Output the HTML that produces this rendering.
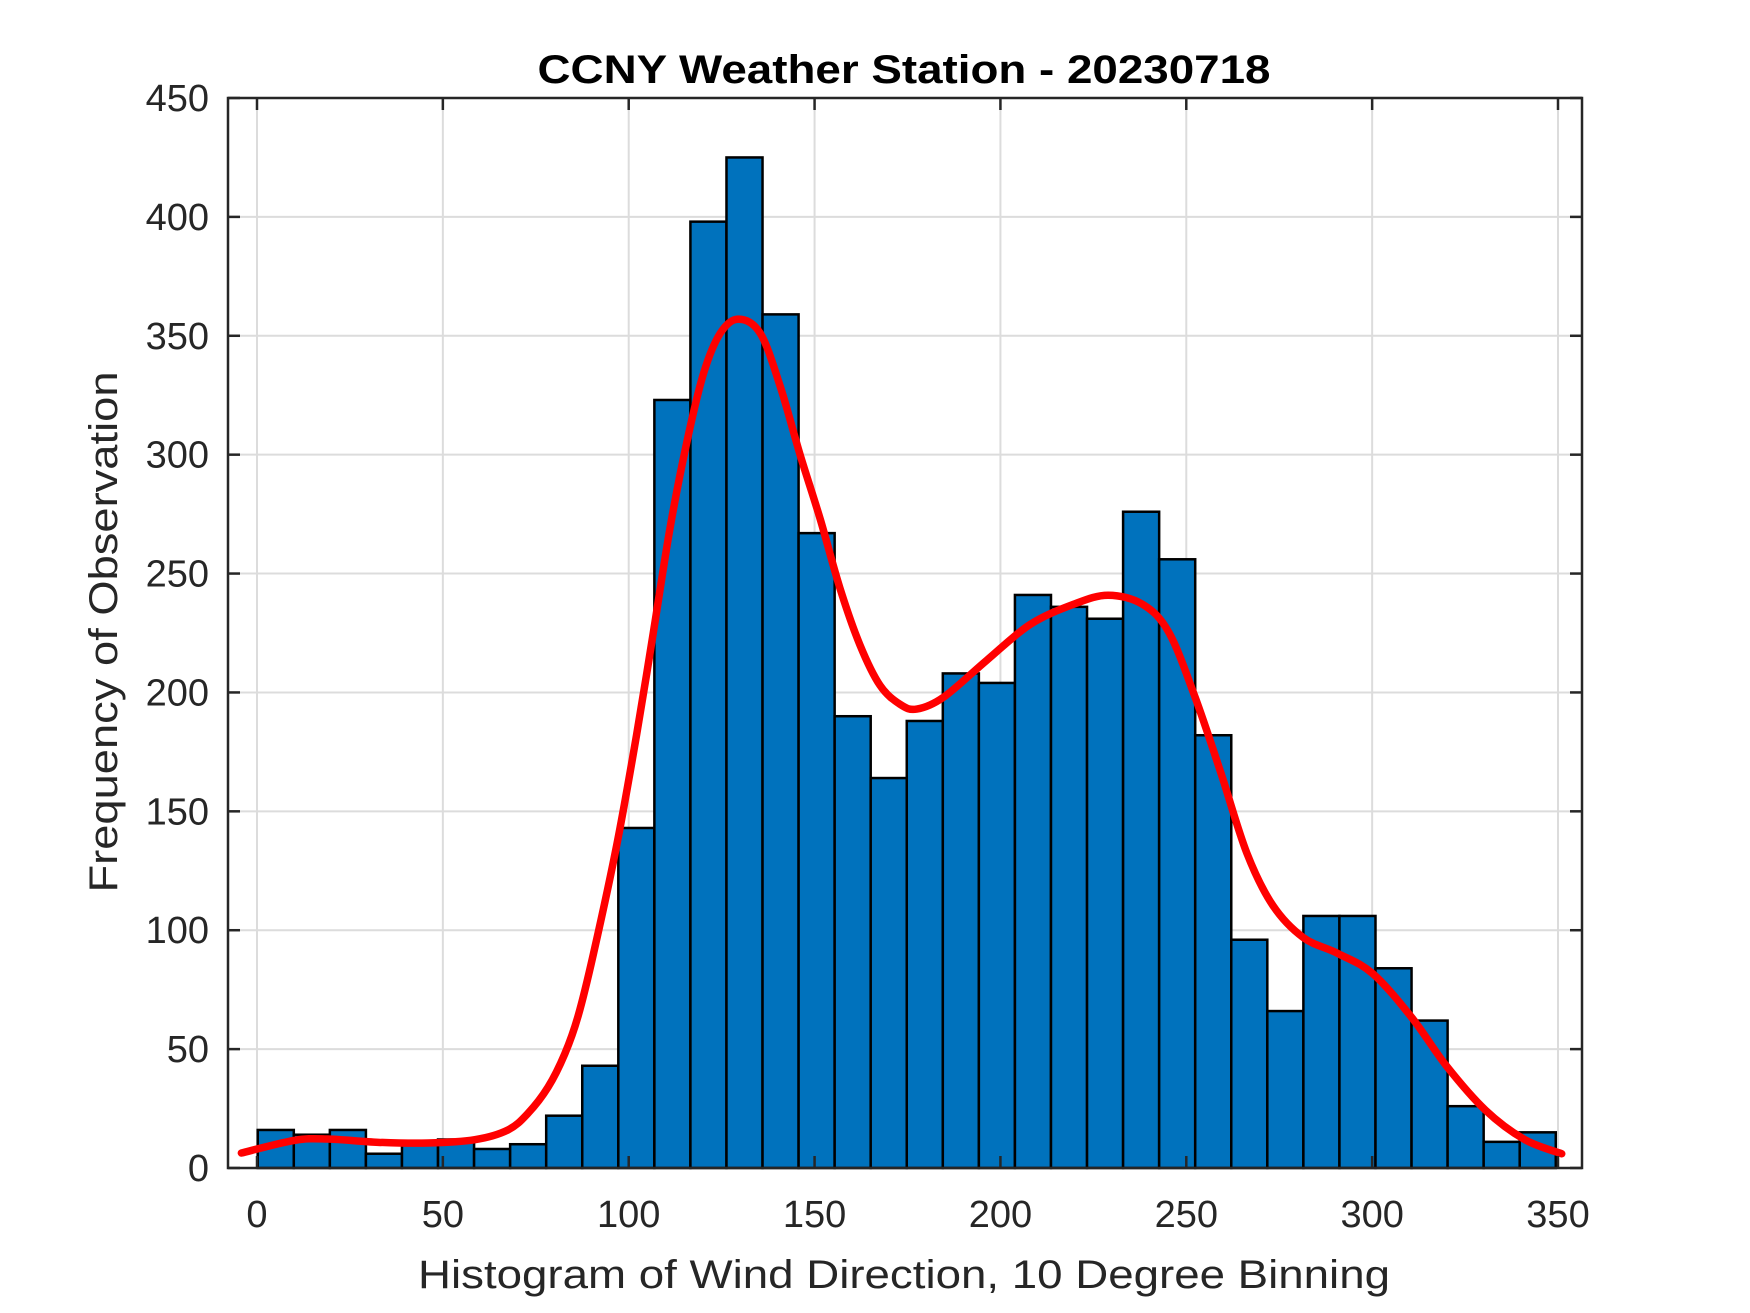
<!DOCTYPE html>
<html><head><meta charset="utf-8"><style>
html,body{margin:0;padding:0;background:#fff;}
svg{display:block;font-family:"Liberation Sans",Arial,sans-serif;}
</style></head><body>
<svg id="chart" width="1750" height="1313" viewBox="0 0 1750 1313">
<text x="904" y="83" text-anchor="middle" font-size="40" font-weight="bold" textLength="733" lengthAdjust="spacingAndGlyphs">CCNY Weather Station - 20230718</text>
<g id="grid"></g>
<g id="bars"></g>
<g id="curve"></g>
<rect x="228" y="98" width="1354" height="1070" fill="none" stroke="#262626" stroke-width="2.5"/>
<g id="ticks"></g>
<text x="904" y="1288" text-anchor="middle" font-size="40" fill="#262626" textLength="972" lengthAdjust="spacingAndGlyphs">Histogram of Wind Direction, 10 Degree Binning</text>
<text transform="translate(117,632) rotate(-90)" text-anchor="middle" font-size="40" fill="#262626" textLength="521" lengthAdjust="spacingAndGlyphs">Frequency of Observation</text>
</svg>
<script>
const counts=[16,14,16,6,11,12,8,10,22,43,143,323,398,425,359,267,190,164,188,208,204,241,236,231,276,256,182,96,66,106,106,84,62,26,11,15];
const binStart=0.2;
const binWidth=9.7;
const curveX=[-4.2,10,19,32.6,46,58.6,67.5,72.9,78.3,82.8,86.4,90.5,96.8,102.1,106.6,111.1,115.6,120.1,124.6,129.5,135.4,140.7,146.1,151.5,156.8,162.2,167.6,173,177.5,184.7,196.3,208,219.7,229,238.3,245.3,252.3,259.3,266.3,273.3,281.5,290.8,300.2,310.7,320,330.5,341,351];
const curveY=[6.3,11.6,12.2,10.8,10.5,11.9,16,23,34,48,64,90,136,182,225,269,305,334,351,357,351,329,300,273,244,220,203,195,193,198,213.5,228.6,237.1,240.9,237,225.3,198.3,166.2,132.4,110.4,96.9,90.2,81.7,63.2,42.9,24.3,12,6];
const xTicks=[0,50,100,150,200,250,300,350];
const yTicks=[0,50,100,150,200,250,300,350,400,450];
const NS='http://www.w3.org/2000/svg';
const xs=v=>257+(v)*(1558-257)/350;
const ys=v=>1168-v*(1070/450);
function mk(tag,attrs,parent){const e=document.createElementNS(NS,tag);for(const k in attrs)e.setAttribute(k,attrs[k]);parent.appendChild(e);return e;}
const grid=document.getElementById('grid'),ticks=document.getElementById('ticks'),bars=document.getElementById('bars'),curve=document.getElementById('curve');
xTicks.forEach(t=>{const x=xs(t);
 const g=mk('line',{x1:x,x2:x,y1:98,y2:1168,stroke:'#dcdcdc','stroke-width':2},grid);
 
 
 mk('line',{x1:x,x2:x,y1:1168,y2:1156,stroke:'#262626','stroke-width':2.5},ticks);
 mk('line',{x1:x,x2:x,y1:98,y2:110,stroke:'#262626','stroke-width':2.5},ticks);
 const l=mk('text',{x:x,y:1227,'text-anchor':'middle','font-size':38,fill:'#262626'},ticks);
 l.textContent=t;
 
 
});
yTicks.forEach(t=>{const y=ys(t);
 const g=mk('line',{x1:228,x2:1582,y1:y,y2:y,stroke:'#dcdcdc','stroke-width':2},grid);
 
 
 mk('line',{x1:228,x2:240,y1:y,y2:y,stroke:'#262626','stroke-width':2.5},ticks);
 mk('line',{x1:1582,x2:1570,y1:y,y2:y,stroke:'#262626','stroke-width':2.5},ticks);
 const l=mk('text',{x:209,y:y+13,'text-anchor':'end','font-size':38,fill:'#262626'},ticks);
 l.textContent=t;
 
 
});
counts.forEach((c,i)=>{const x0=xs(binStart+i*binWidth),x1=xs(binStart+(i+1)*binWidth);
 const r=mk('rect',{x:x0,y:ys(c),width:x1-x0,height:ys(0)-ys(c),fill:'#0072bd',stroke:'#000','stroke-width':2.5},bars);
 
 
});
const P=curveX.map((x,i)=>[xs(x),ys(curveY[i])]);
let d='M'+P[0][0]+','+P[0][1];
for(let i=0;i<P.length-1;i++){const p0=P[Math.max(0,i-1)],p1=P[i],p2=P[i+1],p3=P[Math.min(P.length-1,i+2)];
 d+=' C'+(p1[0]+(p2[0]-p0[0])/6)+','+(p1[1]+(p2[1]-p0[1])/6)+' '+(p2[0]-(p3[0]-p1[0])/6)+','+(p2[1]-(p3[1]-p1[1])/6)+' '+p2[0]+','+p2[1];}
const path=mk('path',{d:d,fill:'none',stroke:'#ff0000','stroke-width':7.5,'stroke-linejoin':'round','stroke-linecap':'round'},curve);


</script>
</body></html>
